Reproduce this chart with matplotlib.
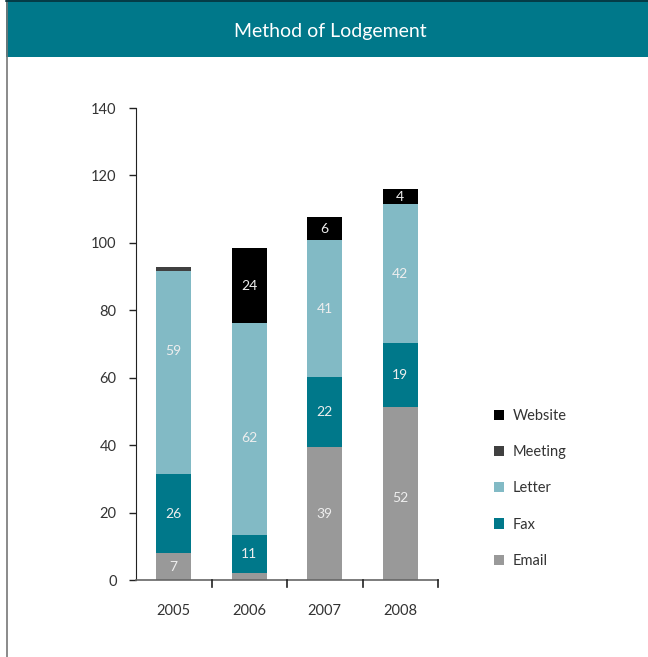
import matplotlib
matplotlib.use("Agg")
import matplotlib.pyplot as plt
from matplotlib.patches import Rectangle
from matplotlib.lines import Line2D
import numpy as np

years = ["2005", "2006", "2007", "2008"]
series = ["Email", "Fax", "Letter", "Meeting", "Website"]
email = [8.0, 2.1, 39.4, 51.4]
fax = [23.4, 11.2, 20.7, 18.8]
letter = [60.2, 62.8, 40.6, 41.2]
meeting = [1.1, 0.0, 0.0, 0.0]
website = [0.0, 22.3, 6.9, 4.5]
email_lbl = ["7", "", "39", "52"]
fax_lbl = ["26", "11", "22", "19"]
letter_lbl = ["59", "62", "41", "42"]
meeting_lbl = ["", "", "", ""]
website_lbl = ["", "24", "6", "4"]
yticks = [0, 20, 40, 60, 80, 100, 120, 140]

colors = ["#999999", "#00788A", "#82BAC5", "#404040", "#000000"]
values = [email, fax, letter, meeting, website]
labels = [email_lbl, fax_lbl, letter_lbl, meeting_lbl, website_lbl]
# small vertical nudges of label placement (layout only, in axis units)
nudges = {("Letter", 0): 6.5, ("Letter", 1): -2.7, ("Email", 3): -1.5}

W, H = 648, 657
fig = plt.figure(figsize=(W / 100, H / 100), dpi=100)
plt.rcParams['font.family'] = ['Lato', 'DejaVu Sans']

# frame: left border line and title bar
fig.add_artist(Line2D([6.5 / W, 6.5 / W], [0, 1], transform=fig.transFigure,
                      color="#777777", lw=1.2))
fig.add_artist(Rectangle((6 / W, 1 - 57 / H), 1 - 6 / W, 57 / H, transform=fig.transFigure,
                         facecolor="#00788A", edgecolor="none"))
fig.add_artist(Line2D([6 / W, 1], [1 - 0.8 / H, 1 - 0.8 / H], transform=fig.transFigure,
                      color="#06303a", lw=1.2))
fig.text(330 / W, 1 - 31 / H, "Method of Lodgement", color="white", fontsize=14,
         ha="center", va="center")

ax = fig.add_axes([136 / W, 1 - 580 / H, 302 / W, (580 - 108) / H])
x = np.arange(len(years))
bottom = np.zeros(len(years))
handles = []
for name, vals, lbls, c in zip(series, values, labels, colors):
    v = np.array(vals)
    b = ax.bar(x, v, 0.46, bottom=bottom, color=c, label=name, zorder=2)
    handles.append(b)
    for i, (xi, bi, vi, li) in enumerate(zip(x, bottom, v, lbls)):
        if li:
            ax.text(xi, bi + vi / 2 + nudges.get((name, i), 0), li, ha="center",
                    va="center", color="#eeeeee", fontsize=10)
    bottom += v

ax.set_xlim(-0.5, 3.5)
ax.set_ylim(0, 140)
ax.set_yticks(yticks)
ax.set_yticklabels([str(t) for t in yticks], fontsize=10.5, color="#333333")
ax.set_xticks(x)
ax.set_xticklabels(years, fontsize=10.5, color="#333333")
ax.tick_params(axis="x", length=0, pad=17.5)
ax.tick_params(axis="y", length=5, width=1, color="#222222", pad=9)
for xb in [0.5, 1.5, 2.5, 3.5]:
    ax.plot([xb, xb], [0, -2], color="#222222", lw=1.2, clip_on=False, zorder=3)
for s in ["top", "right"]:
    ax.spines[s].set_visible(False)
ax.spines["left"].set_color("#222222")
ax.spines["bottom"].set_color("#666666")
ax.spines["bottom"].set_linewidth(1.2)

leg = fig.legend(handles[::-1], series[::-1], loc="upper left",
                 bbox_to_anchor=(481 / W, 1 - 396 / H), frameon=False,
                 fontsize=10.5, handlelength=0.7, handleheight=0.7,
                 handletextpad=0.6, labelspacing=1.52)
for t in leg.get_texts():
    t.set_color("#333333")

fig.savefig("out.png", dpi=100)
